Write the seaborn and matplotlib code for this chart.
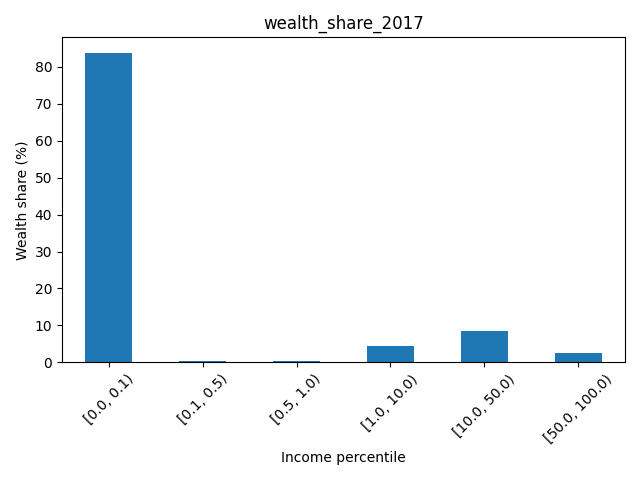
import matplotlib
matplotlib.use("Agg")
import matplotlib.pyplot as plt
import seaborn as sns
import pandas as pd

percentiles = ["[0.0, 0.1)", "[0.1, 0.5)", "[0.5, 1.0)", "[1.0, 10.0)", "[10.0, 50.0)", "[50.0, 100.0)"]
wealth_share = [83.8, 0.3, 0.3, 4.4, 8.4, 2.5]

df = pd.DataFrame({"percentile": percentiles, "share": wealth_share})

fig, ax = plt.subplots(figsize=(6.4, 4.8), dpi=100)
sns.barplot(data=df, x="percentile", y="share", color="#1f77b4", saturation=1, width=0.5, ax=ax)
ax.set_title("wealth_share_2017")
ax.set_xlabel("Income percentile")
ax.set_ylabel("Wealth share (%)")
ax.tick_params(axis="x", rotation=45)
ax.set_xlim(-0.5, 5.5)
plt.tight_layout()
plt.savefig("out.png")
